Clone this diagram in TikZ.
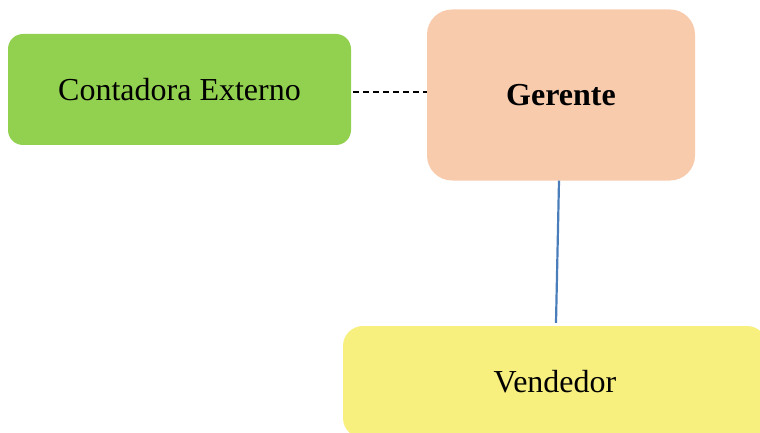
\documentclass[tikz,border=0pt]{standalone}
\usepackage{fontspec}
\setmainfont{Liberation Serif}
\usetikzlibrary{positioning}
\definecolor{boxgreen}{HTML}{92D050}
\definecolor{boxpeach}{HTML}{F8CBAD}
\definecolor{boxyellow}{HTML}{F7EF7E}
\definecolor{linkblue}{HTML}{4A7EBB}
\begin{document}
\begin{tikzpicture}[x=1pt,y=-1pt,
    orgbox/.style={rectangle, inner sep=0pt, font=\fontsize{32}{38}\selectfont},
    link/.style={line width=2.2pt, linkblue}]
\useasboundingbox (0,0) rectangle (760,433);
\node[orgbox, fill=boxgreen, rounded corners=15pt, minimum width=343pt, minimum height=111pt] (cont) at (179.5,89.5) {Contadora Externo};
\node[orgbox, fill=boxpeach, rounded corners=25pt, minimum width=268pt, minimum height=171pt] (ger) at (561,95) {\textbf{Gerente}};
\node[orgbox, fill=boxyellow, rounded corners=20pt, minimum width=424pt, minimum height=112pt] (ven) at (555,382) {Vendedor};
\draw[dashed, line width=1.5pt, dash pattern=on 6pt off 4pt] ([xshift=2pt,yshift=-2.5pt]cont.east) -- ([yshift=3pt]ger.west);
\draw[link] ([xshift=-2pt]ger.south) -- ([xshift=1pt,yshift=3pt]ven.north);
\end{tikzpicture}
\end{document}
